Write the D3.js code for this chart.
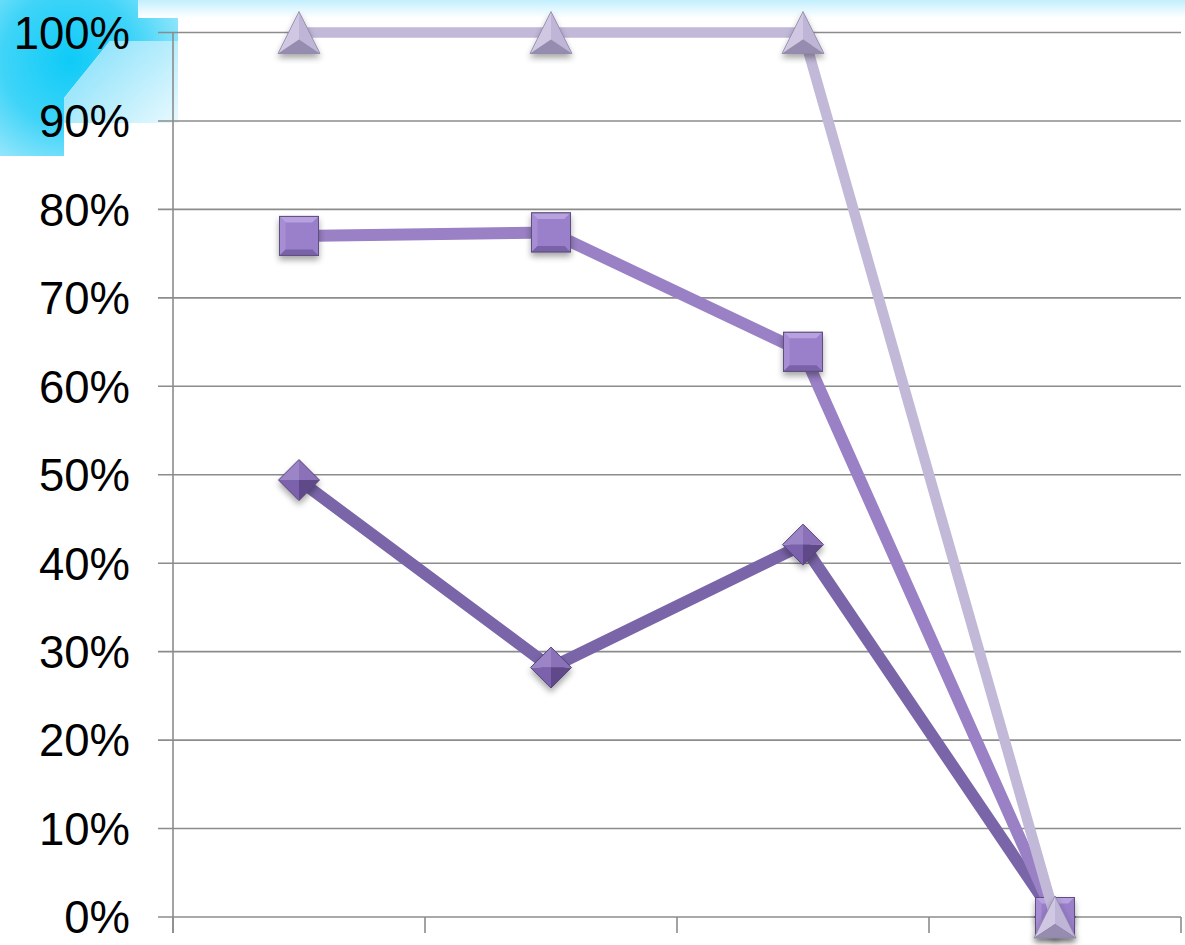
<!DOCTYPE html>
<html><head><meta charset="utf-8">
<script src="https://cdn.jsdelivr.net/npm/d3@7/dist/d3.min.js"></script>
<style>html,body{margin:0;padding:0;background:#fff;}svg{display:block;}</style>
</head><body>
<svg id="chart" width="1185" height="945"></svg>
<script>
const categories = ["1", "2", "3", "4"];
const seriesDiamond = [0.494, 0.282, 0.421, 0];
const seriesSquare = [0.770, 0.774, 0.639, 0];
const seriesTriangle = [1.0, 1.0, 1.0, 0];
const yTicks = [0, 0.1, 0.2, 0.3, 0.4, 0.5, 0.6, 0.7, 0.8, 0.9, 1.0];

(function () {
const svg = d3.select("#chart");
const defs = svg.append("defs");

// decorations
const topG = defs.append("linearGradient").attr("id","topband").attr("x1",0).attr("y1",0).attr("x2",0).attr("y2",1);
topG.append("stop").attr("offset","0%").attr("stop-color","#c2effd");
topG.append("stop").attr("offset","100%").attr("stop-color","#ffffff");
const rg = defs.append("radialGradient").attr("id","glow").attr("gradientUnits","userSpaceOnUse")
  .attr("cx",70).attr("cy",60).attr("r",150);
rg.append("stop").attr("offset","0%").attr("stop-color","#0ecbf7");
rg.append("stop").attr("offset","45%").attr("stop-color","#3fd4f8");
rg.append("stop").attr("offset","100%").attr("stop-color","#c8f1fd");
const lg = defs.append("linearGradient").attr("id","light").attr("gradientUnits","userSpaceOnUse")
  .attr("x1",100).attr("y1",40).attr("x2",178).attr("y2",123);
lg.append("stop").attr("offset","0%").attr("stop-color","#8fe3fb");
lg.append("stop").attr("offset","100%").attr("stop-color","#e8f9fe");
const sf = defs.append("filter").attr("id","shadow").attr("x","-50%").attr("y","-50%").attr("width","200%").attr("height","200%");
sf.append("feDropShadow").attr("dx",0).attr("dy",4).attr("stdDeviation",3).attr("flood-color","#000").attr("flood-opacity",0.35);

svg.append("rect").attr("x",0).attr("y",0).attr("width",1185).attr("height",18).attr("fill","url(#topband)");
svg.append("polygon").attr("points","0,0 138,0 138,18 178,18 178,41 110,41 64,98 64,156 0,156").attr("fill","url(#glow)");
svg.append("polygon").attr("points","110,41 178,41 178,123 64,123 64,98").attr("fill","url(#light)");

const pLeft = 173, pRight = 1181, pTop = 32.5, pBottom = 917;
const x = d3.scaleBand().domain(categories).range([pLeft, pRight]).paddingInner(0).paddingOuter(0);
const y = d3.scaleLinear().domain([0, 1]).range([pBottom, pTop]);
const cx = c => x(c) + x.bandwidth() / 2;

// gridlines
svg.append("g").selectAll("line").data(yTicks).join("line")
  .attr("x1", pLeft - 15).attr("x2", pRight).attr("y1", d => y(d)).attr("y2", d => y(d))
  .attr("stroke", "#8c8c8c").attr("stroke-width", 1.6);
// y axis line
svg.append("line").attr("x1", pLeft).attr("x2", pLeft).attr("y1", pTop).attr("y2", pBottom + 16)
  .attr("stroke", "#8c8c8c").attr("stroke-width", 1.6);
// x ticks at band boundaries
const xb = categories.map(c => x(c)).concat([pRight]);
svg.append("g").selectAll("line").data(xb).join("line")
  .attr("x1", d => d).attr("x2", d => d).attr("y1", pBottom).attr("y2", pBottom + 16)
  .attr("stroke", "#8c8c8c").attr("stroke-width", 1.6);
// y labels
svg.append("g").selectAll("text").data(yTicks).join("text")
  .attr("x", 130).attr("y", d => y(d)).attr("dy", "0.36em").attr("text-anchor", "end")
  .attr("font-family", "'Liberation Sans', Arial, sans-serif").attr("font-size", 45.5).attr("fill", "#000")
  .text(d => d3.format(".0%")(d));

const series = [
  {values: seriesDiamond, shape: "diamond", width: 12, line: "#7a65a8", base: "#7c62ac", light: "#9b85c6", mid: "#8a71b8", dark: "#5e4889", stroke: "#55447a"},
  {values: seriesSquare, shape: "square", width: 12, line: "#9a80c4", base: "#9a7fcb", light: "#b7a1de", mid: "#a68dd4", dark: "#7a62a8", stroke: "#5f5080"},
  {values: seriesTriangle, shape: "triangle", width: 10.5, line: "#c2b8d8", base: "#b3a8cc", light: "#d0c8e2", mid: "#bfb5d6", dark: "#968cb0", stroke: "#8d84a6"}
];

const lineGen = d3.line().x((d, i) => cx(categories[i])).y(d => y(d));

function drawMarker(g, s) {
  const p = pts => pts.map(q => q.join(",")).join(" ");
  if (s.shape === "square") {
    const h = 19.5, i = 6;
    g.append("rect").attr("x",-h).attr("y",-h).attr("width",2*h).attr("height",2*h).attr("fill",s.base).attr("stroke",s.stroke).attr("stroke-width",1);
    g.append("polygon").attr("points",p([[-h,-h],[h,-h],[h-i,-h+i],[-h+i,-h+i]])).attr("fill",s.light);
    g.append("polygon").attr("points",p([[-h,-h],[-h+i,-h+i],[-h+i,h-i],[-h,h]])).attr("fill",s.mid);
    g.append("polygon").attr("points",p([[h,-h],[h,h],[h-i,h-i],[h-i,-h+i]])).attr("fill",s.base);
    g.append("polygon").attr("points",p([[-h,h],[h,h],[h-i,h-i],[-h+i,h-i]])).attr("fill",s.dark);
    g.append("rect").attr("x",-h).attr("y",-h).attr("width",2*h).attr("height",2*h).attr("fill","none").attr("stroke",s.stroke).attr("stroke-width",1);
  } else if (s.shape === "diamond") {
    const h = 20.5;
    g.append("polygon").attr("points",p([[0,-h],[0,0],[-h,0]])).attr("fill",s.light);
    g.append("polygon").attr("points",p([[0,-h],[h,0],[0,0]])).attr("fill",s.mid);
    g.append("polygon").attr("points",p([[-h,0],[0,0],[0,h]])).attr("fill",s.base);
    g.append("polygon").attr("points",p([[0,0],[h,0],[0,h]])).attr("fill",s.dark);
    g.append("polygon").attr("points",p([[0,-h],[h,0],[0,h],[-h,0]])).attr("fill","none").attr("stroke",s.stroke).attr("stroke-width",1);
  } else {
    const h = 21;
    g.append("polygon").attr("points",p([[0,-h],[0,7],[-h,h]])).attr("fill",s.light);
    g.append("polygon").attr("points",p([[0,-h],[h,h],[0,7]])).attr("fill",s.mid);
    g.append("polygon").attr("points",p([[-h,h],[0,7],[h,h]])).attr("fill",s.dark);
    g.append("polygon").attr("points",p([[0,-h],[h,h],[-h,h]])).attr("fill","none").attr("stroke",s.stroke).attr("stroke-width",0.8);
  }
}

series.forEach(s => {
  svg.append("path").datum(s.values).attr("d", lineGen).attr("fill","none")
    .attr("stroke", s.line).attr("stroke-width", s.width).attr("stroke-linejoin","round");
  const mg = svg.append("g").attr("filter","url(#shadow)");
  s.values.forEach((v, i) => {
    const g = mg.append("g").attr("transform", `translate(${cx(categories[i])},${y(v)})`);
    drawMarker(g, s);
  });
});
})();
</script>
</body></html>
